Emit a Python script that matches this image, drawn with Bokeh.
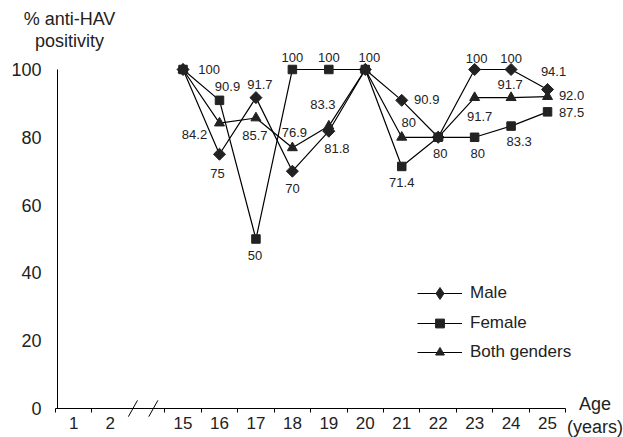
import math
from bokeh.plotting import figure
from bokeh.models import Range1d, FixedTicker, Label, Legend, LegendItem, ColumnDataSource
from bokeh.core.properties import value
from bokeh.embed import file_html
from bokeh.resources import INLINE

# ---- data ----
categories = ["1", "2", "", "15", "16", "17", "18", "19", "20", "21", "22", "23", "24", "25"]
ages = ["15", "16", "17", "18", "19", "20", "21", "22", "23", "24", "25"]
male = [100, 75, 91.7, 70, 81.8, 100, 90.9, 80, 100, 100, 94.1]
female = [100, 90.9, 50, 100, 100, 100, 71.4, 80, 80, 83.3, 87.5]
both = [100, 84.2, 85.7, 76.9, 83.3, 100, 80, 80, 91.7, 91.7, 92.0]
male_text = ["100", "75", "91.7", "70", "81.8", "100", "90.9", "80", "100", "100", "94.1"]
female_text = ["100", "90.9", "50", "100", "100", "100", "71.4", "80", "80", "83.3", "87.5"]
both_text = ["100", "84.2", "85.7", "76.9", "83.3", "100", "80", "80", "91.7", "91.7", "92.0"]
y_ticks = [0, 20, 40, 60, 80, 100]
series_names = {"M": "Male", "F": "Female", "B": "Both genders"}

# ---- label placement (series, age) -> pixel offset of label centre ----
label_offsets = {
    ("F", "15"): (26, 0), ("F", "16"): (8, -14), ("M", "17"): (4, -13),
    ("B", "16"): (-25, 11), ("M", "16"): (-2, 19), ("B", "17"): (-1, 18),
    ("B", "18"): (2, -15), ("M", "18"): (0, 17), ("F", "18"): (0, -12),
    ("F", "19"): (0, -12), ("B", "19"): (-6, -22), ("M", "19"): (8, 17),
    ("F", "17"): (-1, 16), ("F", "20"): (4, -12), ("M", "21"): (25, -1),
    ("B", "21"): (7, -15), ("F", "21"): (0, 16), ("F", "22"): (2, 16),
    ("M", "23"): (2, -11), ("B", "23"): (5, 19), ("F", "23"): (3, 16),
    ("M", "24"): (0, -11), ("B", "24"): (-1, -13), ("F", "24"): (8, 15),
    ("M", "25"): (6, -18), ("B", "25"): (24, -1), ("F", "25"): (24, 1),
}

FONT = "Liberation Sans"
INK = "#222222"

x_of = {c: i for i, c in enumerate(categories)}
xs = [x_of[a] for a in ages]

p = figure(width=623, height=437, output_backend="svg", toolbar_location=None,
           x_range=Range1d(-2.008, 15.084), y_range=Range1d(-8.55, 120.35),
           min_border=0)
p.outline_line_color = None
p.xgrid.grid_line_color = None
p.ygrid.grid_line_color = None
p.background_fill_color = "white"
p.border_fill_color = "white"

# y axis (drawn at a fixed position inside the plot area)
ya = p.yaxis[0]
ya.fixed_location = -0.444
ya.ticker = FixedTicker(ticks=y_ticks)
ya.bounds = (0, 100)
ya.major_tick_out = 0
ya.major_tick_in = 0
ya.minor_tick_out = 0
ya.minor_tick_in = 0
ya.major_label_standoff = 16
ya.major_label_text_font = FONT
ya.major_label_text_font_size = "18px"
ya.major_label_text_color = INK
ya.axis_line_color = "black"

# x axis
xa = p.xaxis[0]
xa.fixed_location = 0
major = [x_of[c] for c in categories if c]
minor = [-0.5, 0.5] + [i + 0.5 for i in range(2, len(categories))]
xa.ticker = FixedTicker(ticks=major, minor_ticks=minor)
xa.major_label_overrides = {x_of[c]: c for c in categories if c}
xa.bounds = (-0.5, len(categories) - 0.5)
xa.major_tick_out = 0
xa.major_tick_in = 0
xa.minor_tick_out = 4
xa.minor_tick_in = 0
xa.major_label_standoff = 4
xa.major_label_text_font = FONT
xa.major_label_text_font_size = "17px"
xa.major_label_text_color = INK
xa.axis_line_color = "black"

# break marks on the x axis
p.segment(x0=[1.50, 2.06], y0=[-2.4, -2.4], x1=[1.75, 2.31], y1=[2.4, 2.4],
          line_color="black", line_width=1)

# series (female drawn last so its squares sit on top where the series meet)
markers = {"M": ("square", 8.5, math.pi / 4), "F": ("square", 8.5, 0), "B": ("triangle", 10, 0)}
vals = {"M": male, "F": female, "B": both}
texts = {"M": male_text, "F": female_text, "B": both_text}
items = {}
for key in ["M", "B", "F"]:
    ln = p.line(xs, vals[key], line_color="black", line_width=1.2)
    mk, sz, ang = markers[key]
    sc = p.scatter(xs, vals[key], marker=mk, size=sz, angle=ang,
                   fill_color=INK, line_color=INK, line_width=1)
    if key == "M":
        # legend swatch for the diamond (legend swatches ignore marker rotation)
        sw = p.scatter(xs, vals[key], marker="diamond", size=12,
                       fill_color=INK, line_color=INK, visible=False)
        items[key] = LegendItem(label=series_names[key], renderers=[ln, sw])
    else:
        items[key] = LegendItem(label=series_names[key], renderers=[ln, sc])

common = dict(border_line_color=None, background_fill_alpha=0, padding=0, margin=0,
              glyph_width=45, label_standoff=8, label_text_font_size="17px",
              label_text_font=FONT, label_text_color=INK)
legend_m = Legend(items=[items["M"]], location=(417, 129), glyph_height=30,
                  label_height=30, spacing=0, **common)
legend_fb = Legend(items=[items["F"], items["B"]], location=(417, 74), glyph_height=22,
                   label_height=22, spacing=7, **common)
p.add_layout(legend_m)
p.add_layout(legend_fb)

# data labels
lx, ly, lt, dx, dy = [], [], [], [], []
for key in ["M", "F", "B"]:
    for i, a in enumerate(ages):
        if (key, a) in label_offsets:
            ox, oy = label_offsets[(key, a)]
            lx.append(x_of[a]); ly.append(vals[key][i]); lt.append(texts[key][i])
            dx.append(ox); dy.append(oy)
src = ColumnDataSource(dict(x=lx, y=ly, text=lt, dx=dx, dy=dy))
p.text(x="x", y="y", text="text", x_offset="dx", y_offset="dy", source=src,
       text_align="center", text_baseline="middle", text_font_size="13px",
       text_color=INK, text_font=value(FONT))

p.add_layout(Label(x=-0.115, y=117.7, text="% anti-HAV\npositivity", text_align="center",
                   text_baseline="top", text_font=FONT, text_font_size="18px",
                   text_color=INK, text_line_height=1.1))
p.add_layout(Label(x=14.30, y=4.4, text="Age\n(years)", text_align="center",
                   text_baseline="top", text_font=FONT, text_font_size="18px",
                   text_color=INK, text_line_height=1.15))

open("out.html", "w").write(file_html(p, INLINE))
